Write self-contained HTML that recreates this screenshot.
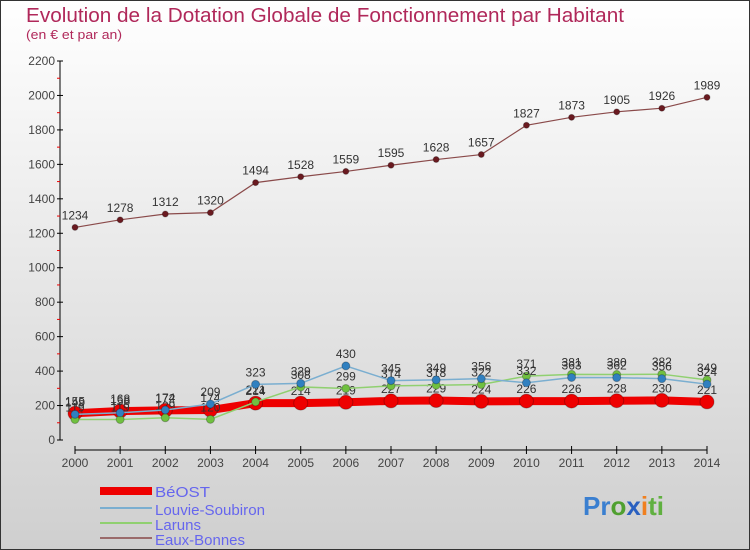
<!DOCTYPE html>
<html><head><meta charset="utf-8"><style>
body{margin:0;width:750px;height:550px;overflow:hidden}
svg{display:block;font-family:"Liberation Sans",sans-serif}
</style></head><body>
<svg width="750" height="550">
<defs><linearGradient id="bg" x1="0" y1="0" x2="0" y2="1"><stop offset="0" stop-color="#ffffff"/><stop offset="1" stop-color="#cfcfcf"/></linearGradient></defs>
<rect x="0.5" y="0.5" width="749" height="549" fill="url(#bg)" stroke="#333"/>
<text x="26" y="22" font-size="20" fill="#b0285a" textLength="598" lengthAdjust="spacingAndGlyphs">Evolution de la Dotation Globale de Fonctionnement par Habitant</text>
<text x="26" y="39" font-size="13" fill="#b0285a" textLength="96" lengthAdjust="spacingAndGlyphs">(en € et par an)</text>
<g id="axes"></g><g id="plot"></g>
<g>
<rect x="100" y="487" width="52" height="8" fill="#ee0000"/>
<text x="155" y="497" font-size="15" fill="#6666ee" textLength="55" lengthAdjust="spacingAndGlyphs">BéOST</text>
<rect x="100" y="507" width="52" height="2" fill="#7aaed0"/>
<text x="155" y="515" font-size="15" fill="#6666ee" textLength="110" lengthAdjust="spacingAndGlyphs">Louvie-Soubiron</text>
<rect x="100" y="522" width="52" height="2" fill="#90d070"/>
<text x="155" y="530" font-size="15" fill="#6666ee" textLength="46" lengthAdjust="spacingAndGlyphs">Laruns</text>
<rect x="100" y="537" width="52" height="2" fill="#9a6a6a"/>
<text x="155" y="545" font-size="15" fill="#6666ee" textLength="90" lengthAdjust="spacingAndGlyphs">Eaux-Bonnes</text>
</g>
<text x="583" y="515" font-size="26" font-weight="bold"><tspan fill="#3a7fd0">Pr</tspan><tspan fill="#50a030">o</tspan><tspan fill="#2a60c0">x</tspan><tspan fill="#f08020">i</tspan><tspan fill="#60b040">ti</tspan></text>
</svg>
<script>
const years=[2000,2001,2002,2003,2004,2005,2006,2007,2008,2009,2010,2011,2012,2013,2014];
const beost=[155,168,172,174,214,214,219,227,229,224,226,226,228,230,221];
const louvie=[149,158,174,209,323,329,430,345,349,356,332,363,362,356,324];
const laruns=[119,119,129,120,221,308,299,314,318,322,371,381,380,382,349];
const eaux=[1234,1278,1312,1320,1494,1528,1559,1595,1628,1657,1827,1873,1905,1926,1989];
const yTicks=[0,200,400,600,800,1000,1200,1400,1600,1800,2000,2200];
const NS="http://www.w3.org/2000/svg";
const X=i=>75+i*(707-75)/14, Y=v=>440-v*(379/2200);
function mk(t,a,p){const e=document.createElementNS(NS,t);for(const k in a)e.setAttribute(k,a[k]);p.appendChild(e);return e;}
const ax=document.getElementById('axes'),pl=document.getElementById('plot');
let l=mk('line',{x1:60,y1:61,x2:60,y2:440,stroke:'#000'},ax);


yTicks.forEach((v,i)=>{
 mk('line',{x1:57,y1:Y(v),x2:63,y2:Y(v),stroke:'#000'},ax);
 if(i<yTicks.length-1)mk('line',{x1:57,y1:Y(v+100),x2:60,y2:Y(v+100),stroke:'#e00'},ax);
 const t=mk('text',{x:55,y:Y(v)+4,'font-size':12,fill:'#444','text-anchor':'end'},ax);t.textContent=v;
 
 
});
l=mk('line',{x1:X(0),y1:450,x2:X(14),y2:450,stroke:'#000'},ax);


years.forEach((y,i)=>{
 mk('line',{x1:X(i),y1:446,x2:X(i),y2:454,stroke:'#000'},ax);
 const t=mk('text',{x:X(i),y:467,'font-size':12,fill:'#444','text-anchor':'middle'},ax);t.textContent=y;
 
 
});
function series(name,d,col,w,r,dot,lab){
 const g=mk('g',{},pl);
 
 
 mk('polyline',{points:d.map((v,i)=>X(i)+','+Y(v)).join(' '),fill:'none',stroke:col,'stroke-width':w},g);
 d.forEach((v,i)=>{
  const c=mk('circle',{cx:X(i),cy:Y(v),r:r,fill:dot,stroke:'rgba(0,0,0,0.25)'},g);
  
  
  if(lab){const t=mk('text',{x:X(i),y:Y(v)-8,'font-size':12,fill:'#333','text-anchor':'middle'},g);t.textContent=v;}
 });
}
series('eaux-bonnes',eaux,'#8a4a4a',1.2,3,'#6a1a20',true);
series('beost',beost,'#ee0000',8,7,'#ee0000',true);
series('laruns',laruns,'#90d070',1.5,4,'#70c040',true);
series('louvie-soubiron',louvie,'#7aaed0',1.5,4,'#3080c0',true);
</script>
</body></html>
